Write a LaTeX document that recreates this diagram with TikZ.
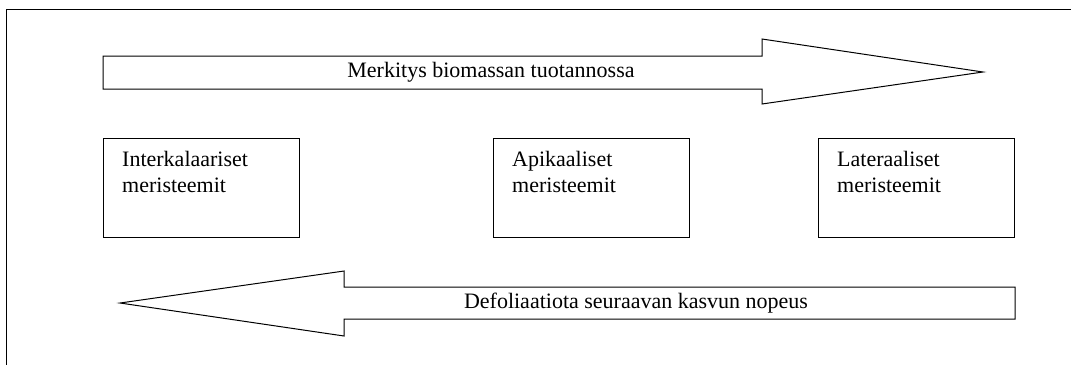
\documentclass[tikz,border=0pt]{standalone}
\usepackage{fontspec}
\setmainfont{Liberation Serif}
\usetikzlibrary{positioning}

\begin{document}
\begin{tikzpicture}[
    x=1pt, y=-1pt,
    font=\fontsize{22}{26}\selectfont,
    frame/.style  ={draw, line width=1pt},
    bigarrow/.style={draw, line width=1pt, line join=miter},
    box/.style    ={draw, line width=1.2pt, anchor=north west,
                    minimum width=196pt, minimum height=99pt, inner sep=0pt},
    boxtxt/.style ={anchor=north west, align=left, inner sep=0pt},
    lbl/.style    ={inner sep=0pt},
]
\useasboundingbox (0,0) rectangle (1071,365);

% =============== Frame (top and left edge only) ===============
\coordinate (fTL) at (6,9.5);
\coordinate (fTR) at (1071,9.5);
\coordinate (fBL) at (6,365);
\draw[frame] (fTR) -- (fTL) -- (fBL);

% =============== Top arrow (to the right) ===============
\draw[bigarrow] (103,56) -- (762,56) -- (762,39) -- (983,72)
                -- (762,104) -- (762,89) -- (103,89) -- cycle;
\node[lbl] (merk) at (491,72) {Merkitys biomassan tuotannossa};

% =============== Meristem boxes ===============
\node[box] (inter) at (103,138) {};
\node[box] (apik)  at (493,138) {};
\node[box] (later) at (818,138) {};

\foreach \n/\t in {inter/Interkalaariset, apik/Apikaaliset, later/Lateraaliset}{%
  \node[boxtxt] (\n txt) at ([xshift=19pt, yshift=-13pt]\n.north west)
        {\t\\meristeemit};
}

% =============== Bottom arrow (to the left) ===============
\draw[bigarrow] (1015,287) -- (344,287) -- (344,271) -- (120,303)
                -- (344,336) -- (344,319) -- (1015,319) -- cycle;
\node[lbl] (defol) at (636,303) {Defoliaatiota seuraavan kasvun nopeus};

\end{tikzpicture}
\end{document}
